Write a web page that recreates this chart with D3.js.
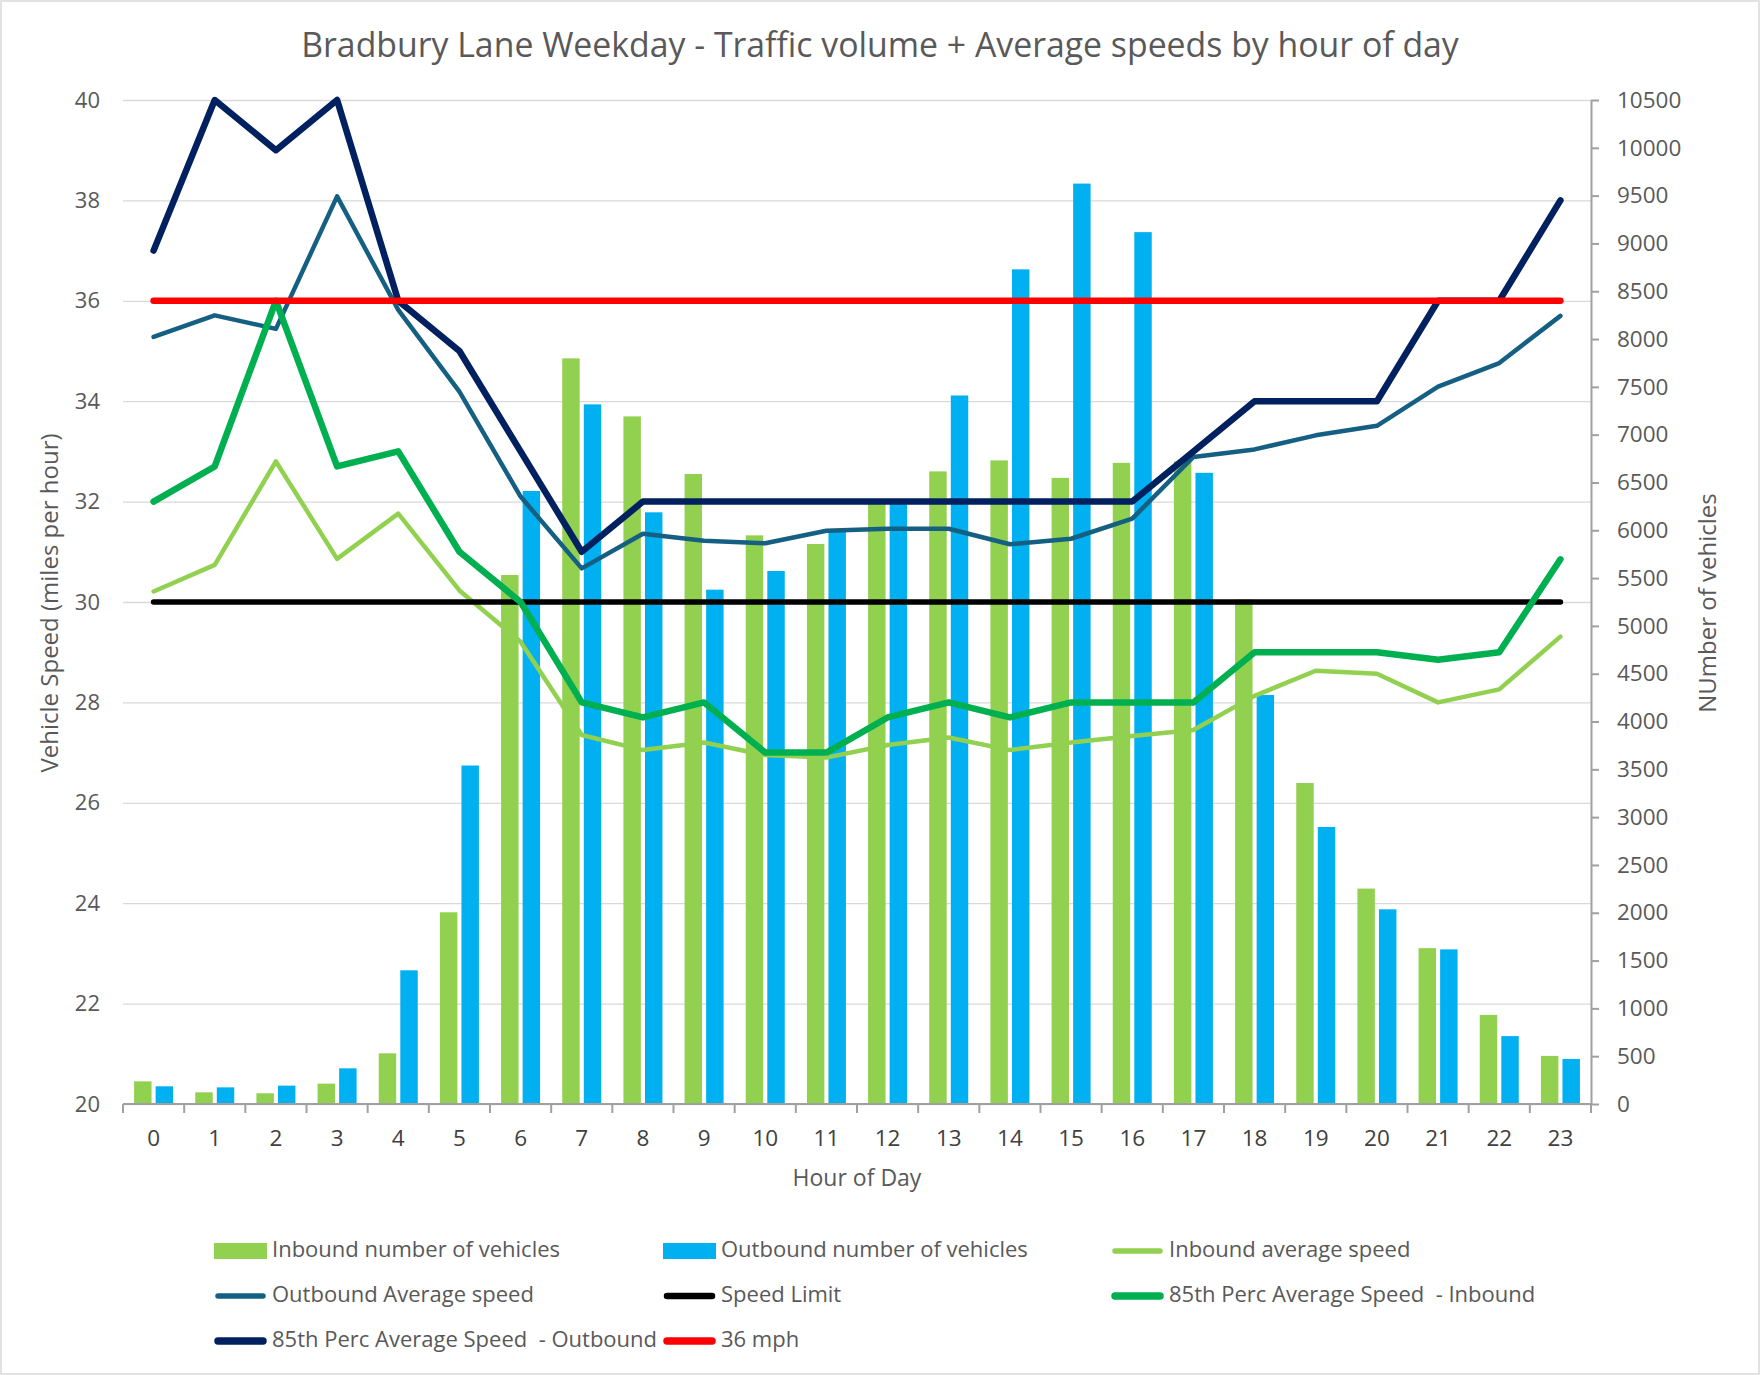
<!DOCTYPE html>
<html>
<head>
<meta charset="utf-8">
<script src="https://cdn.jsdelivr.net/npm/d3@7"></script>
<style>
  body { margin: 0; background: #fff; }
  text { font-family: "Open Sans", Lato, sans-serif; }
</style>
</head>
<body>
<div id="chart"></div>
<script>
// hour of day categories
const hours = ["0","1","2","3","4","5","6","7","8","9","10","11","12","13","14","15","16","17","18","19","20","21","22","23"];

// vehicle counts per hour (right axis)
const inboundVehicles  = [237, 122, 112, 213, 530, 2005, 5532, 7798, 7191, 6589, 5947, 5857, 6290, 6616, 6731, 6548, 6705, 6720, 5276, 3357, 2253, 1630, 932, 503];
const outboundVehicles = [185, 174, 192, 373, 1398, 3540, 6411, 7317, 6188, 5379, 5574, 5990, 6290, 7410, 8729, 9626, 9118, 6601, 4277, 2897, 2036, 1617, 710, 471];

// speeds in mph (left axis)
const inboundAvg  = [30.21, 30.74, 32.8, 30.86, 31.76, 30.23, 29.21, 27.35, 27.05, 27.2, 26.95, 26.9, 27.15, 27.3, 27.05, 27.2, 27.33, 27.45, 28.13, 28.63, 28.57, 28.0, 28.26, 29.31];
const outboundAvg = [35.28, 35.71, 35.44, 38.08, 35.82, 34.19, 32.1, 30.67, 31.36, 31.22, 31.17, 31.42, 31.46, 31.46, 31.15, 31.26, 31.66, 32.89, 33.04, 33.32, 33.51, 34.29, 34.76, 35.7];
const p85Inbound  = [32, 32.7, 36, 32.7, 33, 31, 30, 28, 27.7, 28, 27, 27, 27.7, 28, 27.7, 28, 28, 28, 29, 29, 29, 28.85, 29, 30.85];
const p85Outbound = [37, 40, 39, 40, 36, 35, 33, 31, 32, 32, 32, 32, 32, 32, 32, 32, 32, 33, 34, 34, 34, 36, 36, 38];
const speedLimit = 30;
const mph36 = 36;

// tick labels
const speedTicks  = [20, 22, 24, 26, 28, 30, 32, 34, 36, 38, 40];
const volumeTicks = [0, 500, 1000, 1500, 2000, 2500, 3000, 3500, 4000, 4500, 5000, 5500, 6000, 6500, 7000, 7500, 8000, 8500, 9000, 9500, 10000, 10500];

const width = 1760,
      height = 1375,
      margin = ({ top: 100, right: 169, bottom: 271, left: 123 });

const grey = "#595959";

let svg = d3.select("#chart")
    .append("svg")
    .attr("width", width)
    .attr("height", height);

// outer frame
svg.append("rect")
    .attr("x", 1).attr("y", 1)
    .attr("width", width - 2).attr("height", height - 2)
    .attr("fill", "#fff")
    .attr("stroke", "#d9d9d9")
    .attr("stroke-width", 1.5);

let x = d3.scaleBand()
    .domain(hours)
    .range([margin.left, width - margin.right]);

// two bars inside each hour band
let xSub = d3.scaleBand()
    .domain(["in", "out"])
    .range([x.bandwidth() / 2 - 19.5, x.bandwidth() / 2 + 19.5])
    .paddingInner(0.19);

let y = d3.scaleLinear()
    .domain([20, 40])
    .range([height - margin.bottom, margin.top]);

let yR = d3.scaleLinear()
    .domain([0, 10500])
    .range([height - margin.bottom, margin.top]);

const cx = h => x(h) + x.bandwidth() / 2;

// left axis = gridlines + labels
svg.append("g")
    .attr("transform", `translate(${margin.left},0)`)
    .call(d3.axisLeft(y).tickValues(speedTicks).tickSize(-(width - margin.left - margin.right)).tickPadding(23))
    .call(g => g.select(".domain").remove())
    .call(g => g.selectAll(".tick line").attr("stroke", "#d9d9d9").attr("stroke-width", 1.3))
    .call(g => g.selectAll(".tick text").attr("fill", grey).style("font-size", "22px"));

// right axis
svg.append("g")
    .attr("transform", `translate(${width - margin.right},0)`)
    .call(d3.axisRight(yR).tickValues(volumeTicks).tickFormat(d => d).tickSize(8).tickSizeOuter(0).tickPadding(18))
    .call(g => g.select(".domain").attr("stroke", "#a0a0a0").attr("stroke-width", 2))
    .call(g => g.selectAll(".tick line").attr("stroke", "#a0a0a0").attr("stroke-width", 2))
    .call(g => g.selectAll(".tick text").attr("fill", grey).style("font-size", "22.5px"));

// bars
let bar = svg.selectAll(".bar")
    .data(hours)
    .join("g")
    .attr("class", "bar")
    .attr("transform", d => `translate(${x(d)},0)`);

bar.append("rect")
    .attr("fill", "#92d050")
    .attr("x", xSub("in"))
    .attr("width", xSub.bandwidth())
    .attr("y", (d, i) => yR(inboundVehicles[i]))
    .attr("height", (d, i) => yR(0) - yR(inboundVehicles[i]));

bar.append("rect")
    .attr("fill", "#00b0f0")
    .attr("x", xSub("out"))
    .attr("width", xSub.bandwidth())
    .attr("y", (d, i) => yR(outboundVehicles[i]))
    .attr("height", (d, i) => yR(0) - yR(outboundVehicles[i]));

// bottom axis (band edges get tick marks, labels at centres)
let xAxis = svg.append("g")
    .attr("transform", `translate(0,${height - margin.bottom})`);

xAxis.append("line")
    .attr("x1", margin.left).attr("x2", width - margin.right)
    .attr("stroke", "#a0a0a0").attr("stroke-width", 2);

xAxis.selectAll(".edge")
    .data(hours.concat(["end"]))
    .join("line")
    .attr("class", "edge")
    .attr("x1", d => d === "end" ? x.range()[1] : x(d))
    .attr("x2", d => d === "end" ? x.range()[1] : x(d))
    .attr("y1", 0).attr("y2", 9)
    .attr("stroke", "#a0a0a0").attr("stroke-width", 2);

xAxis.selectAll(".lbl")
    .data(hours)
    .join("text")
    .attr("class", "lbl")
    .attr("x", d => cx(d))
    .attr("y", 36)
    .attr("text-anchor", "middle")
    .attr("dominant-baseline", "middle")
    .attr("fill", "#404040")
    .style("font-size", "22.5px")
    .text(d => d);

// speed lines, drawn in series order
const series = [
    { name: "Inbound average speed", values: inboundAvg, color: "#92d050", w: 4.5 },
    { name: "Outbound Average speed", values: outboundAvg, color: "#156082", w: 4.5 },
    { name: "Speed Limit", values: hours.map(() => speedLimit), color: "#000000", w: 5.5 },
    { name: "85th Perc Average Speed  - Inbound", values: p85Inbound, color: "#00b050", w: 6.5 },
    { name: "85th Perc Average Speed  - Outbound", values: p85Outbound, color: "#002060", w: 6.5 },
    { name: "36 mph", values: hours.map(() => mph36), color: "#ff0000", w: 6.5 }
];

let line = d3.line()
    .x((d, i) => cx(hours[i]))
    .y(d => y(d));

svg.append("g")
    .selectAll("path")
    .data(series)
    .join("path")
    .attr("d", d => line(d.values))
    .attr("fill", "none")
    .attr("stroke", d => d.color)
    .attr("stroke-width", d => d.w)
    .attr("stroke-linecap", "round")
    .attr("stroke-linejoin", "round");

// title + axis titles
svg.append("text")
    .attr("x", width / 2)
    .attr("y", 57)
    .attr("text-anchor", "middle")
    .attr("fill", grey)
    .style("font-size", "33.8px")
    .text("Bradbury Lane Weekday - Traffic volume + Average speeds by hour of day");

svg.append("text")
    .attr("transform", `translate(52,603) rotate(-90)`)
    .attr("text-anchor", "middle")
    .attr("dominant-baseline", "middle")
    .attr("fill", grey)
    .style("font-size", "24px")
    .text("Vehicle Speed (miles per hour)");

svg.append("text")
    .attr("transform", `translate(1710,603) rotate(-90)`)
    .attr("text-anchor", "middle")
    .attr("dominant-baseline", "middle")
    .attr("fill", grey)
    .style("font-size", "24px")
    .text("NUmber of vehicles");

svg.append("text")
    .attr("x", (margin.left + width - margin.right) / 2)
    .attr("y", 1180)
    .attr("text-anchor", "middle")
    .attr("dominant-baseline", "middle")
    .attr("fill", grey)
    .style("font-size", "23px")
    .text("Hour of Day");

// legend
const legendItems = [
    { name: "Inbound number of vehicles", color: "#92d050", bar: true },
    { name: "Outbound number of vehicles", color: "#00b0f0", bar: true }
].concat(series);

const legendCols = [214, 663, 1111],
      legendRows = [1251, 1296, 1341];

let leg = svg.selectAll(".legend")
    .data(legendItems)
    .join("g")
    .attr("class", "legend")
    .attr("transform", (d, i) => `translate(${legendCols[i % 3]},${legendRows[Math.floor(i / 3)]})`);

leg.filter(d => d.bar)
    .append("rect")
    .attr("x", 0).attr("y", -8)
    .attr("width", 53).attr("height", 16)
    .attr("fill", d => d.color);

leg.filter(d => !d.bar)
    .append("line")
    .attr("x1", 4).attr("x2", 49)
    .attr("stroke", d => d.color)
    .attr("stroke-width", d => d.w + 1)
    .attr("stroke-linecap", "round");

leg.append("text")
    .attr("x", 58)
    .attr("dominant-baseline", "middle")
    .attr("fill", grey)
    .style("font-size", "22px")
    .style("white-space", "pre")
    .text(d => d.name);
</script>
</body>
</html>
